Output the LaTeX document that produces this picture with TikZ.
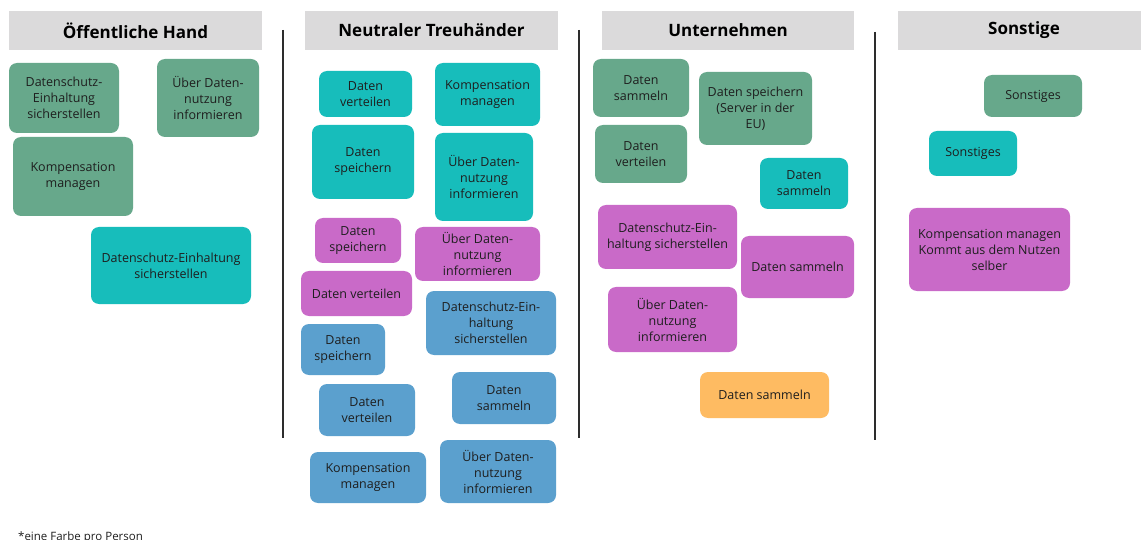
\documentclass[tikz,border=0pt]{standalone}
\usepackage{fontspec}
\setmainfont{Open Sans}
\definecolor{cgreen}{RGB}{103,168,139}
\definecolor{cteal}{RGB}{23,189,187}
\definecolor{cmag}{RGB}{201,106,200}
\definecolor{cblue}{RGB}{91,160,206}
\definecolor{corange}{RGB}{254,187,98}
\definecolor{chead}{RGB}{219,218,219}
\definecolor{ctext}{RGB}{30,30,30}
\definecolor{cline}{RGB}{45,45,45}
\tikzset{
  note/.style={rounded corners=8pt, inner sep=0pt, align=center, text=ctext,
    font=\fontsize{12.5}{16}\selectfont},
  header/.style={fill=chead, inner sep=0pt, text=black,
    font=\bfseries\fontsize{17}{20}\selectfont},
  divider/.style={draw=cline, line width=2pt},
}
\newcommand\stickynote[7]{\node[note, fill=#2, minimum width={#5-#3}, minimum height={#6-#4}] (#1) at ({(#3+#5)/2},{(#4+#6)/2}) {#7};}
\newcommand\headbox[6]{\node[header, minimum width={#5-#3}, minimum height={#6-#4}] (#1) at ({(#3+#5)/2},{(#4+#6)/2}) {#2};}
\begin{document}
\begin{tikzpicture}[x=1pt,y=-1pt]
\useasboundingbox[fill=white] (0,0) rectangle (1141,540);
% headers
\headbox{h1}{Öffentliche Hand}{9}{11}{262}{50}
\headbox{h2}{Neutraler Treuhänder}{305}{11}{558}{50}
\headbox{h3}{Unternehmen}{602}{11}{854}{50}
\headbox{h4}{Sonstige}{898}{11}{1150}{50}
% dividers
\coordinate (d1a) at (283,30); \coordinate (d1b) at (283,438);
\coordinate (d2a) at (579,30); \coordinate (d2b) at (579,438);
\coordinate (d3a) at (875,32); \coordinate (d3b) at (875,440);
\draw[divider] (d1a) -- (d1b);
\draw[divider] (d2a) -- (d2b);
\draw[divider] (d3a) -- (d3b);
% column 1
\stickynote{a1}{cgreen}{9}{63}{119}{133}{Datenschutz-\\Einhaltung\\sicherstellen}
\stickynote{a2}{cgreen}{157}{59}{259}{137}{Über Daten-\\nutzung\\informieren}
\stickynote{a3}{cgreen}{13}{137}{133}{216}{Kompensation\\managen}
\stickynote{a4}{cteal}{91}{227}{251}{304}{Datenschutz-Einhaltung\\sicherstellen}
% column 2
\stickynote{b1}{cteal}{319}{71}{412}{117}{Daten\\verteilen}
\stickynote{b2}{cteal}{435}{63}{540}{126}{Kompensation\\managen}
\stickynote{b3}{cteal}{312}{125}{414}{199}{Daten\\speichern}
\stickynote{b4}{cteal}{435}{133}{533}{221}{Über Daten-\\nutzung\\informieren}
\stickynote{b5}{cmag}{315}{218}{401}{263}{Daten\\speichern}
\stickynote{b6}{cmag}{415}{227}{540}{281}{Über Daten-\\nutzung\\informieren}
\stickynote{b7}{cmag}{301}{271}{412}{316}{Daten verteilen}
\stickynote{b8}{cblue}{426}{291}{556}{355}{Datenschutz-Ein-\\haltung\\sicherstellen}
\stickynote{b9}{cblue}{301}{324}{385}{375}{Daten\\speichern}
\stickynote{b10}{cblue}{319}{384}{415}{436}{Daten\\verteilen}
\stickynote{b11}{cblue}{452}{372}{556}{424}{Daten\\sammeln}
\stickynote{b12}{cblue}{310}{452}{426}{503}{Kompensation\\managen}
\stickynote{b13}{cblue}{440}{440}{556}{503}{Über Daten-\\nutzung\\informieren}
% column 3
\stickynote{c1}{cgreen}{593}{59}{689}{117}{Daten\\sammeln}
\stickynote{c2}{cgreen}{699}{72}{812}{145}{Daten speichern\\(Server in der\\EU)}
\stickynote{c3}{cgreen}{595}{125}{687}{183}{Daten\\verteilen}
\stickynote{c4}{cteal}{760}{158}{848}{209}{Daten\\sammeln}
\stickynote{c5}{cmag}{598}{205}{737}{269}{Datenschutz-Ein-\\haltung sicherstellen}
\stickynote{c6}{cmag}{741}{236}{854}{298}{Daten sammeln}
\stickynote{c7}{cmag}{608}{287}{737}{352}{Über Daten-\\nutzung\\informieren}
\stickynote{c8}{corange}{700}{372}{829}{418}{Daten sammeln}
% column 4
\stickynote{e1}{cgreen}{984}{75}{1082}{117}{Sonstiges}
\stickynote{e2}{cteal}{929}{131}{1017}{176}{Sonstiges}
\stickynote{e3}{cmag}{909}{208}{1070}{291}{Kompensation managen\\Kommt aus dem Nutzen\\selber}
% footnote
\node[anchor=base west, inner sep=0pt, text=ctext, font=\fontsize{11.5}{14}\selectfont] (foot) at (18,540.5) {*eine Farbe pro Person};
\end{tikzpicture}
\end{document}
